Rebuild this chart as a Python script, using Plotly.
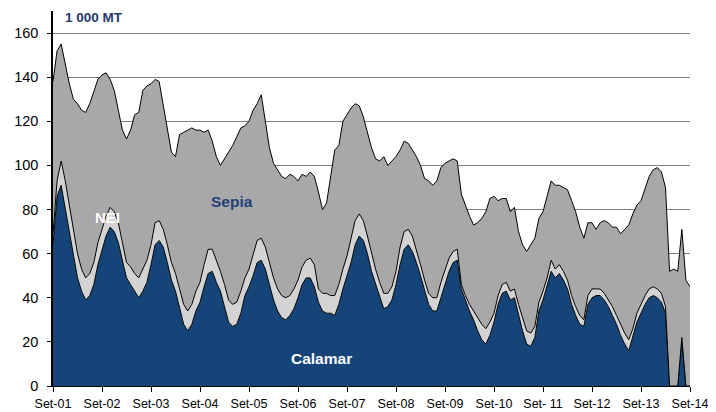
import plotly.graph_objects as go

# Month index 0 = Sep 2001 ... 156 = Sep 2014
tick_labels = ["Set-01", "Set-02", "Set-03", "Set-04", "Set-05", "Set-06", "Set-07",
               "Set-08", "Set-09", "Set-10", "Set- 11", "Set-12", "Set-13", "Set-14"]

calamar = [64, 86, 91, 80, 69, 58, 49, 43, 39, 41, 46, 55, 62, 68, 72, 70, 65, 57, 49, 46,
           43, 40, 43, 47, 55, 64, 66, 63, 56, 48, 43, 35, 28, 25, 28, 34, 38, 45, 51, 52,
           47, 43, 36, 29, 27, 28, 33,
           41, 45, 50, 56, 57, 53, 46, 39, 34, 31, 30, 32, 35, 40, 46, 49, 49, 45, 38, 34,
           33, 33, 32, 37, 44, 50, 56, 64, 68, 66, 60, 52, 46, 40, 35, 36, 39, 46, 55, 62,
           64, 61, 56, 50, 44, 37, 34, 34, 40, 46, 52, 56, 57,
           44, 39, 34, 30, 25, 21, 19, 23, 29, 37, 42, 43, 39, 40, 32, 25, 19, 18, 22, 34,
           39, 45, 52, 49, 51, 48, 44, 37, 32, 28, 27, 37, 40, 41, 41, 39, 36, 32, 28, 23,
           19, 16, 22, 29, 33, 37, 40, 41, 40, 38, 33, 0, 0, 0, 22, 0, 0]

nei = [5, 7, 11, 13, 13, 12, 11, 10, 10, 10, 10, 10, 9, 9, 9, 9, 9, 8, 7, 8,
       8, 9, 10, 10, 9, 10, 9, 8, 8, 8, 8, 9, 9, 9, 9, 9, 9, 10, 11, 10,
       10, 9, 10, 10, 10, 10, 10,
       8, 8, 9, 10, 10, 10, 10, 10, 10, 10, 10, 9, 9, 8, 8, 8, 9, 10, 6, 8,
       9, 8, 9, 9, 9, 9, 11, 11, 10, 9, 8, 8, 7, 7, 7, 6, 6, 6, 8, 8,
       7, 7, 6, 5, 4, 5, 6, 6, 7, 7, 6, 5, 5,
       2, 2, 3, 4, 6, 7, 7, 6, 4, 4, 4, 4, 4, 4, 5, 6, 6, 6, 5, 4,
       4, 4, 5, 4, 4, 4, 4, 4, 4, 4, 3, 4, 4, 3, 3, 3, 3, 4, 4, 5,
       5, 5, 4, 4, 4, 4, 4, 4, 4, 4, 3, 0, 0, 0, 0, 0, 0]

# top of the stack (all species)
total = [138, 152, 155, 146, 137, 130, 128, 125, 124, 128, 134, 139, 141, 142, 139, 134, 125, 116, 112, 116,
         123, 124, 134, 136, 137, 139, 138, 127, 116, 106, 104, 114, 115, 116, 117, 116, 116, 115, 116, 111,
         104, 100, 103, 106, 109, 113, 117,
         118, 120, 125, 128, 132, 120, 108, 101, 98, 95, 94, 96, 95, 93, 96, 95, 97, 95, 88, 80,
         83, 95, 107, 109, 120, 123, 126, 128, 127, 122, 115, 108, 103, 102, 104, 100, 102, 104, 107, 111,
         110, 107, 104, 100, 94, 93, 91, 93, 99, 101, 102, 103, 102,
         87, 82, 77, 73, 74, 76, 79, 85, 86, 84, 85, 85, 79, 81, 70, 64, 61, 64, 67, 76,
         79, 86, 93, 91, 91, 90, 89, 84, 79, 72, 67, 74, 74, 71, 74, 75, 74, 72, 72, 69,
         71, 73, 78, 82, 84, 90, 95, 98, 99, 97, 90, 52, 53, 52, 71, 48, 45]

months = list(range(len(total)))
sepia = [t - c - n for t, c, n in zip(total, calamar, nei)]

BLUE = "#154578"
NEI_C = "#D3D3D3"
SEPIA_C = "#A8A8A8"
FONT = "Liberation Sans, Arial, sans-serif"

# page body has an 8px margin: figure occupies (8,8)-(716,412)
OFF = 8
X0, X1, YTOP, YBOT = 53, 690, 11, 386   # plot area in window pixels
YMAX = 170

fig = go.Figure()
for name, vals, col in [("Calamar", calamar, BLUE), ("NEI", nei, NEI_C), ("Sepia", sepia, SEPIA_C)]:
    fig.add_trace(go.Scatter(
        x=months, y=vals, name=name, stackgroup="one", mode="lines",
        line=dict(color="black", width=1), fillcolor=col, hoverinfo="skip"))

fig.update_layout(
    width=716 - OFF, height=412 - OFF,
    margin=dict(l=X0 - OFF, r=716 - X1, t=YTOP - OFF, b=412 - YBOT),
    paper_bgcolor="white", plot_bgcolor="white",
    showlegend=False,
    font=dict(family=FONT, color="black"),
    xaxis=dict(range=[0, 156], tickvals=list(range(0, 157, 12)), ticktext=tick_labels,
               showgrid=False, zeroline=False, showline=True, linecolor="black", linewidth=1,
               ticks="outside", ticklen=5, tickcolor="black", tickfont=dict(size=12.5, family=FONT),
               ticklabelstandoff=1, automargin=False),
    yaxis=dict(range=[0, YMAX], tickvals=list(range(0, 161, 20)),
               showgrid=True, gridcolor="#7f7f7f", gridwidth=1, zeroline=False,
               showline=True, linecolor="black", linewidth=1.5,
               ticks="outside", ticklen=4, tickcolor="black", tickfont=dict(size=14.5, family=FONT),
               ticklabelstandoff=6, automargin=False),
)


def px_to_x(px):
    return (px - X0) / (X1 - X0) * 156


def py_to_y(py):
    return (YBOT - py) / (YBOT - YTOP) * YMAX


ann = [
    dict(text="<b>1 000 MT</b>", x=px_to_x(63), y=py_to_y(17), xanchor="left", yanchor="middle",
         font=dict(size=13.5, color="#1F3A6E", family=FONT)),
    dict(text="<b>Sepia</b>", x=px_to_x(232), y=py_to_y(201), xanchor="center", yanchor="middle",
         font=dict(size=15.5, color="#1F3F7A", family=FONT)),
    dict(text="<b>NEI</b>", x=px_to_x(107.5), y=py_to_y(217), xanchor="center", yanchor="middle",
         font=dict(size=15, color="white", family=FONT)),
    dict(text="<b>Calamar</b>", x=px_to_x(321), y=py_to_y(358), xanchor="center", yanchor="middle",
         font=dict(size=15.5, color="white", family=FONT)),
]
for a in ann:
    fig.add_annotation(showarrow=False, xref="x", yref="y", **a)

fig.write_html("out.html")
